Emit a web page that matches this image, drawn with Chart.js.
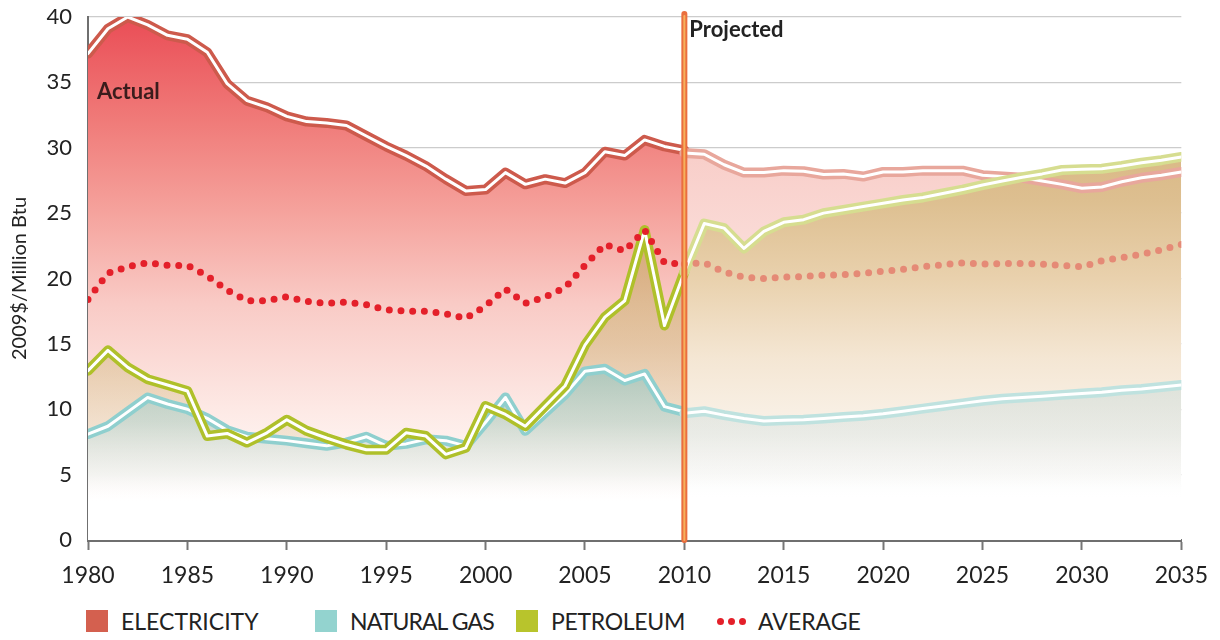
<!DOCTYPE html>
<html>
<head>
<meta charset="utf-8">
<script src="https://cdn.jsdelivr.net/npm/chart.js@4.4.1/dist/chart.umd.min.js"></script>
<style>
  html, body { margin: 0; padding: 0; background: #fff; }
  #wrap { position: relative; width: 1220px; height: 640px; font-family: Lato, sans-serif; }
  #box { position: absolute; left: 0; top: 0; width: 1220px; height: 600px; }
  .item { position: absolute; top: 608px; height: 26px; display: flex; align-items: center;
          font-size: 23px; color: #222; white-space: nowrap; }
  .sw { display: inline-block; width: 22px; height: 22px; margin-right: 13px; }
  .dots { display: inline-flex; gap: 4px; margin-right: 12px; }
  .dots i { display: block; width: 7px; height: 7px; border-radius: 50%; background: #e4202a; }
</style>
</head>
<body>
<div id="wrap">
  <div id="box"><canvas id="myChart"></canvas></div>
  <div class="item" style="left:86px"><span class="sw" style="background:#d4604f"></span>ELECTRICITY</div>
  <div class="item" style="left:315px;letter-spacing:-0.9px"><span class="sw" style="background:#93d3cf"></span>NATURAL GAS</div>
  <div class="item" style="left:516px;letter-spacing:-0.3px"><span class="sw" style="background:#b8c42c"></span>PETROLEUM</div>
  <div class="item" style="left:717px"><span class="dots"><i></i><i></i><i></i></span>AVERAGE</div>
</div>
<script>
/* годы: история и прогноз */
const histYears = [1980, 1981, 1982, 1983, 1984, 1985, 1986, 1987, 1988, 1989, 1990,
                   1991, 1992, 1993, 1994, 1995, 1996, 1997, 1998, 1999, 2000,
                   2001, 2002, 2003, 2004, 2005, 2006, 2007, 2008, 2009, 2010];
const projYears = [2010, 2011, 2012, 2013, 2014, 2015, 2016, 2017, 2018, 2019, 2020,
                   2021, 2022, 2023, 2024, 2025, 2026, 2027, 2028, 2029, 2030,
                   2031, 2032, 2033, 2034, 2035];

/* 2009$/Million Btu */
const elecHist = [37.2, 39.1, 40.0, 39.4, 38.6, 38.3, 37.3, 34.9, 33.6, 33.1, 32.4,
                  32.0, 31.9, 31.7, 30.9, 30.1, 29.4, 28.6, 27.6, 26.7, 26.8,
                  28.1, 27.2, 27.6, 27.3, 28.1, 29.7, 29.4, 30.6, 30.1, 29.8];
const elecProj = [29.6, 29.5, 28.7, 28.1, 28.1, 28.25, 28.2, 27.95, 28.0, 27.8, 28.15,
                  28.15, 28.25, 28.25, 28.25, 27.9, 27.8, 27.7, 27.45, 27.2, 26.9,
                  27.0, 27.4, 27.7, 27.9, 28.15];
const gasHist = [8.1, 8.7, 9.8, 10.9, 10.4, 10.0, 9.3, 8.4, 7.9, 7.75, 7.6,
                 7.4, 7.2, 7.45, 7.9, 7.2, 7.35, 7.7, 7.6, 7.2, 9.0,
                 10.9, 8.35, 9.75, 11.15, 12.9, 13.1, 12.2, 12.7, 10.2, 9.8];
const gasProj = [9.7, 9.85, 9.55, 9.3, 9.1, 9.15, 9.2, 9.3, 9.4, 9.5, 9.65,
                 9.85, 10.05, 10.25, 10.45, 10.65, 10.8, 10.9, 11.0, 11.1, 11.2,
                 11.3, 11.45, 11.55, 11.7, 11.85];
const petroHist = [12.95, 14.5, 13.2, 12.3, 11.85, 11.4, 7.95, 8.15, 7.45, 8.2, 9.2,
                   8.35, 7.8, 7.3, 6.9, 6.9, 8.2, 7.95, 6.55, 7.05, 10.25,
                   9.6, 8.7, 10.25, 11.8, 14.9, 17.05, 18.3, 23.7, 16.4, 20.5];
const petroProj = [20.5, 24.2, 23.85, 22.3, 23.6, 24.3, 24.5, 25.0, 25.25, 25.5, 25.75,
                   26.0, 26.2, 26.5, 26.8, 27.15, 27.45, 27.75, 28.0, 28.3, 28.35,
                   28.4, 28.6, 28.85, 29.05, 29.3];
const avgHist = [18.4, 20.4, 20.9, 21.2, 21.0, 21.0, 20.2, 19.1, 18.3, 18.3, 18.6,
                 18.25, 18.1, 18.2, 18.0, 17.6, 17.5, 17.5, 17.3, 16.95, 17.9,
                 19.2, 18.1, 18.6, 19.3, 21.0, 22.6, 22.1, 23.7, 21.2, 21.1];
const avgProj = [21.1, 21.2, 20.5, 20.1, 20.0, 20.1, 20.15, 20.25, 20.3, 20.4, 20.55,
                 20.7, 20.9, 21.05, 21.2, 21.1, 21.15, 21.15, 21.1, 21.0, 20.9,
                 21.35, 21.6, 21.85, 22.2, 22.6];

const yTicks = [0, 5, 10, 15, 20, 25, 30, 35, 40];
const xTicks = [1980, 1985, 1990, 1995, 2000, 2005, 2010, 2015, 2020, 2025, 2030, 2035];
const splitYear = 2010;

Chart.defaults.font.family = 'Lato, sans-serif';

function pts(years, vals) {
      return years.map((x, i) => ({ x: x, y: vals[i] }));
}

/* вертикальный градиент по значениям оси y */
function vGrad(stops) {
      return (ctx) => {
            const chart = ctx.chart;
            if (!chart.chartArea) return 'rgba(0,0,0,0)';
            const y = chart.scales.y;
            const top = y.getPixelForValue(40), bottom = y.getPixelForValue(0);
            const g = chart.ctx.createLinearGradient(0, top, 0, bottom);
            stops.forEach(s => g.addColorStop(1 - s[0] / 40, s[1]));
            return g;
      };
}

function fillSet(data, bg, fill, order) {
      return { data: data, backgroundColor: bg, borderWidth: 0, borderColor: 'rgba(0,0,0,0)',
               fill: fill, order: order, pointRadius: 0 };
}
function lineSet(data, color, width, order) {
      return { data: data, borderColor: color, borderWidth: width, fill: false, order: order,
               pointRadius: 0, borderCapStyle: 'round', borderJoinStyle: 'round' };
}
function dotSet(data, color, order) {
      return { data: data, borderColor: color, borderWidth: 7, fill: false, order: order,
               pointRadius: 0, borderCapStyle: 'round', borderDash: [0, 11.7] };
}

const datasets = [
      // 0..5 заливки
      fillSet(pts(histYears, elecHist), vGrad([[40, '#ea4d56'], [32, '#f07b79'], [25, '#f5a39d'],
            [18, '#f9cbc6'], [10, '#fde9e5'], [5, '#fff9f8'], [3, '#ffffff']]), 'origin', 30),
      fillSet(pts(projYears, elecProj), vGrad([[30, '#f8cdc8'], [20, '#fbe0dc'],
            [10, '#fdf1ee'], [4, '#ffffff']]), 'origin', 29),
      fillSet(pts(histYears, gasHist), vGrad([[13, 'rgba(100,178,158,0.5)'], [9, 'rgba(125,185,165,0.36)'],
            [5, 'rgba(175,210,195,0.15)'], [3, 'rgba(255,255,255,0)']]), 'origin', 26),
      fillSet(pts(projYears, gasProj), vGrad([[12, 'rgba(150,200,180,0.3)'], [8, 'rgba(165,200,185,0.22)'],
            [5, 'rgba(200,215,205,0.12)'], [3, 'rgba(255,255,255,0)']]), 'origin', 25),
      fillSet(pts(histYears, petroHist), vGrad([[25, 'rgba(180,160,70,0.55)'], [15, 'rgba(195,172,95,0.4)'],
            [8, 'rgba(210,190,130,0.24)'], [2, 'rgba(230,220,180,0)']]), { target: 2, below: 'rgba(0,0,0,0)' }, 28),
      fillSet(pts(projYears, petroProj), vGrad([[32, '#d8b47f'], [26, '#ddbf90'], [20, '#e9d1ad'],
            [14, '#f4e6d3'], [9, '#f9f1e7']]), { target: 3, below: 'rgba(0,0,0,0)' }, 27),
      // линии: газ
      lineSet(pts(histYears, gasHist), '#8fcfce', 10, 20),
      lineSet(pts(histYears, gasHist), '#ffffff', 3, 19),
      lineSet(pts(projYears, gasProj), '#bfe2df', 10, 18),
      lineSet(pts(projYears, gasProj), '#ffffff', 3, 17),
      // электричество
      lineSet(pts(histYears, elecHist), '#cd5a4c', 10, 16),
      lineSet(pts(histYears, elecHist), '#ffffff', 3, 15),
      lineSet(pts(projYears, elecProj), '#e8a79c', 10, 14),
      lineSet(pts(projYears, elecProj), '#ffffff', 3, 13),
      // нефть
      lineSet(pts(histYears, petroHist), '#afc02a', 10, 12),
      lineSet(pts(histYears, petroHist), '#ffffff', 3, 11),
      lineSet(pts(projYears, petroProj), '#d6dd90', 10, 10),
      lineSet(pts(projYears, petroProj), '#ffffff', 3, 9),
      // среднее
      dotSet(pts(histYears, avgHist), '#e4202a', 8),
      dotSet(pts(projYears, avgProj), '#e58a76', 7)
];

/* линия "Projected" и подписи */
const markers = {
      id: 'markers',
      afterDatasetsDraw(chart) {
            const c = chart.ctx, x = chart.scales.x, y = chart.scales.y;
            const px = x.getPixelForValue(splitYear);
            const top = y.getPixelForValue(40) - 3, bottom = y.getPixelForValue(0);
            c.save();
            c.lineCap = 'round';
            c.strokeStyle = '#ea6e3e';
            c.lineWidth = 6;
            c.beginPath(); c.moveTo(px, top); c.lineTo(px, bottom); c.stroke();
            c.strokeStyle = '#f6b15c';
            c.lineWidth = 2;
            c.beginPath(); c.moveTo(px, top + 2); c.lineTo(px, bottom); c.stroke();

            c.fillStyle = '#3a1c1c';
            c.font = 'bold 22px Lato, sans-serif';
            c.textBaseline = 'alphabetic';
            c.fillText('Actual', x.getPixelForValue(1980) + 9, y.getPixelForValue(35) + 17);
            c.fillStyle = '#222';
            c.font = 'bold 22px Lato, sans-serif';
            c.fillText('Projected', px + 5, y.getPixelForValue(40) + 20);
            c.restore();
      }
};

const chart = new Chart(document.getElementById('myChart'), {
      type: 'line',
      data: { datasets: datasets },
      plugins: [markers],
      options: {
            responsive: true,
            maintainAspectRatio: false,
            animation: false,
            events: [],
            layout: { padding: { top: 17, right: 37, left: 0, bottom: 0 } },
            plugins: { legend: { display: false }, tooltip: { enabled: false } },
            scales: {
                  x: {
                        type: 'linear', min: 1980, max: 2035,
                        afterBuildTicks: (s) => { s.ticks = xTicks.map(v => ({ value: v })); },
                        afterFit: (s) => { s.height = 60; },
                        grid: { drawOnChartArea: false, drawTicks: true, tickLength: 10,
                                tickColor: '#777', tickWidth: 2 },
                        border: { color: '#6f6f6f', width: 3 },
                        ticks: { color: '#222', font: { size: 23 }, padding: 12,
                                 maxRotation: 0, callback: (v) => String(v) }
                  },
                  y: {
                        min: 0, max: 40,
                        afterBuildTicks: (s) => { s.ticks = yTicks.map(v => ({ value: v })); },
                        afterFit: (s) => { s.width = 88; s.paddingTop = 0; s.paddingBottom = 0; },
                        grid: { color: '#cccccc', lineWidth: 1.3, drawTicks: false },
                        border: { color: '#6f6f6f', width: 2 },
                        ticks: { color: '#222', font: { size: 22 }, padding: 16 },
                        title: { display: true, text: '2009$/Million Btu', color: '#222',
                                 font: { size: 20 }, padding: { top: 8, bottom: 0 } }
                  }
            }
      }
});
</script>
</body>
</html>
